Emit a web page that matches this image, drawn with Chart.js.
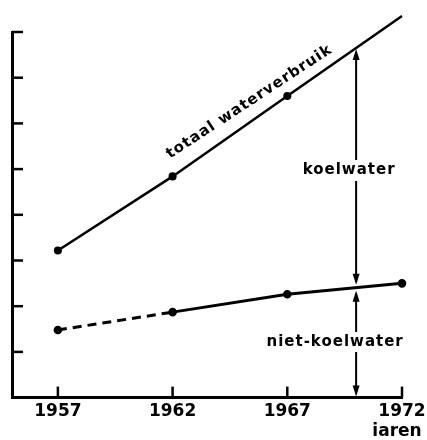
<!DOCTYPE html>
<html>
<head>
<meta charset="utf-8">
<style>
body { margin: 0; background: #fff; }
#wrap { width: 427px; height: 440px; position: relative; }
</style>
</head>
<body>
<div id="wrap"><canvas id="chart"></canvas></div>

<script src="https://cdn.jsdelivr.net/npm/chart.js"></script>

<script>
// values (y axis has no labels: one unit per tick)
const years = [1957, 1962, 1967, 1972];
const totaal = [3.22, 4.84, 6.6, 8.35];
const nietKoelwater = [1.48, 1.87, 2.26, 2.5];
const yTicks = [1, 2, 3, 4, 5, 6, 7, 8];
const arrowYear = 1970;

const FONT = '"DejaVu Sans", sans-serif';

// value of a series at some year between two measured points (for the arrow ends)
function valueAt(series, yr){
    for(let i = 0; i < years.length - 1; i++){
        if(yr >= years[i] && yr <= years[i+1]){
            let f = (yr - years[i]) / (years[i+1] - years[i]);
            return series[i] + f * (series[i+1] - series[i]);
        }
    }
    return series[series.length - 1];
}

function line(ctx, x1, y1, x2, y2){
    ctx.beginPath();
    ctx.moveTo(x1, y1);
    ctx.lineTo(x2, y2);
    ctx.stroke();
}

function arrowHead(ctx, x, y, dir){
    // dir = -1 points up, 1 points down; tip at (x, y)
    ctx.beginPath();
    ctx.moveTo(x, y);
    ctx.lineTo(x - 3.5, y - dir * 11);
    ctx.lineTo(x + 3.5, y - dir * 11);
    ctx.closePath();
    ctx.fill();
}

const overlay = {
    id: 'overlay',
    afterDraw(chart){
        let ctx = chart.ctx;
        let x = chart.scales.x, y = chart.scales.y;
        let area = chart.chartArea;
        ctx.save();
        ctx.strokeStyle = '#000';
        ctx.fillStyle = '#000';
        ctx.lineWidth = 2.5;

        // tick marks point inward
        years.forEach(v => {
            let px = x.getPixelForValue(v);
            line(ctx, px, area.bottom, px, area.bottom - 11);
        });
        yTicks.forEach(v => {
            let py = y.getPixelForValue(v);
            line(ctx, area.left, py, area.left + 11, py);
        });

        // vertical double arrows at 1970
        let ax = x.getPixelForValue(arrowYear);
        let yTop = y.getPixelForValue(valueAt(totaal, arrowYear));
        let yMid = y.getPixelForValue(valueAt(nietKoelwater, arrowYear));
        let yBot = area.bottom;
        ctx.lineWidth = 2;
        line(ctx, ax, yTop + 6, ax, 160);
        arrowHead(ctx, ax, yTop + 1, -1);
        line(ctx, ax, 181, ax, yMid - 6);
        arrowHead(ctx, ax, yMid - 3, 1);
        line(ctx, ax, yMid + 6, ax, 332);
        arrowHead(ctx, ax, yMid + 3, -1);
        line(ctx, ax, 352, ax, yBot - 6);
        arrowHead(ctx, ax, yBot - 1, 1);

        ctx.font = 'bold 15px ' + FONT;
        ctx.textAlign = 'center';
        ctx.textBaseline = 'middle';
        ctx.letterSpacing = '1px';
        ctx.fillText('koelwater', ax - 7, 170);
        ctx.fillText('niet-koelwater', ax - 21, 342);

        // label along the total line
        let x1 = x.getPixelForValue(years[1]), y1 = y.getPixelForValue(totaal[1]);
        let x2 = x.getPixelForValue(years[2]), y2 = y.getPixelForValue(totaal[2]);
        let ang = Math.atan2(y2 - y1, x2 - x1);
        let lx = x.getPixelForValue(1965.75);
        let ly = y.getPixelForValue(valueAt(totaal, 1965.75));
        ctx.translate(lx, ly);
        ctx.rotate(ang + 0.03);
        ctx.textBaseline = 'alphabetic';
        ctx.fillText('totaal waterverbruik', 0, -13);
        ctx.restore();

        ctx.save();
        ctx.fillStyle = '#000';
        ctx.font = 'bold 17px ' + FONT;
        ctx.textAlign = 'center';
        ctx.textBaseline = 'middle';
        ctx.fillText('iaren', 397, 432);
        ctx.restore();
    }
};

let ctx = document.getElementById('chart').getContext('2d');
let chart = new Chart(ctx, {
    type: 'line',
    data: {
        datasets: [{
            label: 'totaal waterverbruik',
            data: years.map((yr, i) => ({x: yr, y: totaal[i]})),
            borderColor: '#000',
            backgroundColor: '#000',
            borderWidth: 2.5,
            pointRadius: 2.8,
            tension: 0,
            clip: false
        }, {
            label: 'niet-koelwater',
            data: years.map((yr, i) => ({x: yr, y: nietKoelwater[i]})),
            borderColor: '#000',
            backgroundColor: '#000',
            borderWidth: 3,
            pointRadius: 2.8,
            tension: 0,
            clip: false,
            segment: {
                borderDash: c => c.p0DataIndex === 0 ? [9, 6] : undefined
            }
        }]
    },
    plugins: [overlay],
    options: {
        responsive: true,
        maintainAspectRatio: false,
        animation: false,
        layout: {padding: {left: 12, right: 25, top: 32, bottom: 14}},
        plugins: {legend: {display: false}, tooltip: {enabled: false}},
        scales: {
            x: {
                type: 'linear',
                min: 1955.0,
                max: 1972,
                afterBuildTicks: s => { s.ticks = years.map(v => ({value: v})); },
                afterFit: s => { s.paddingLeft = 0; s.paddingRight = 0; },
                grid: {display: false, drawTicks: false},
                border: {display: true, color: '#000', width: 3},
                ticks: {
                    color: '#000',
                    padding: 4,
                    maxRotation: 0,
                    font: {family: FONT, size: 17, weight: 'bold'},
                    callback: v => String(v)
                }
            },
            y: {
                type: 'linear',
                min: 0,
                max: 8,
                grid: {display: false, drawTicks: false},
                border: {display: true, color: '#000', width: 3},
                ticks: {display: false}
            }
        }
    }
});
</script>
</body>
</html>
